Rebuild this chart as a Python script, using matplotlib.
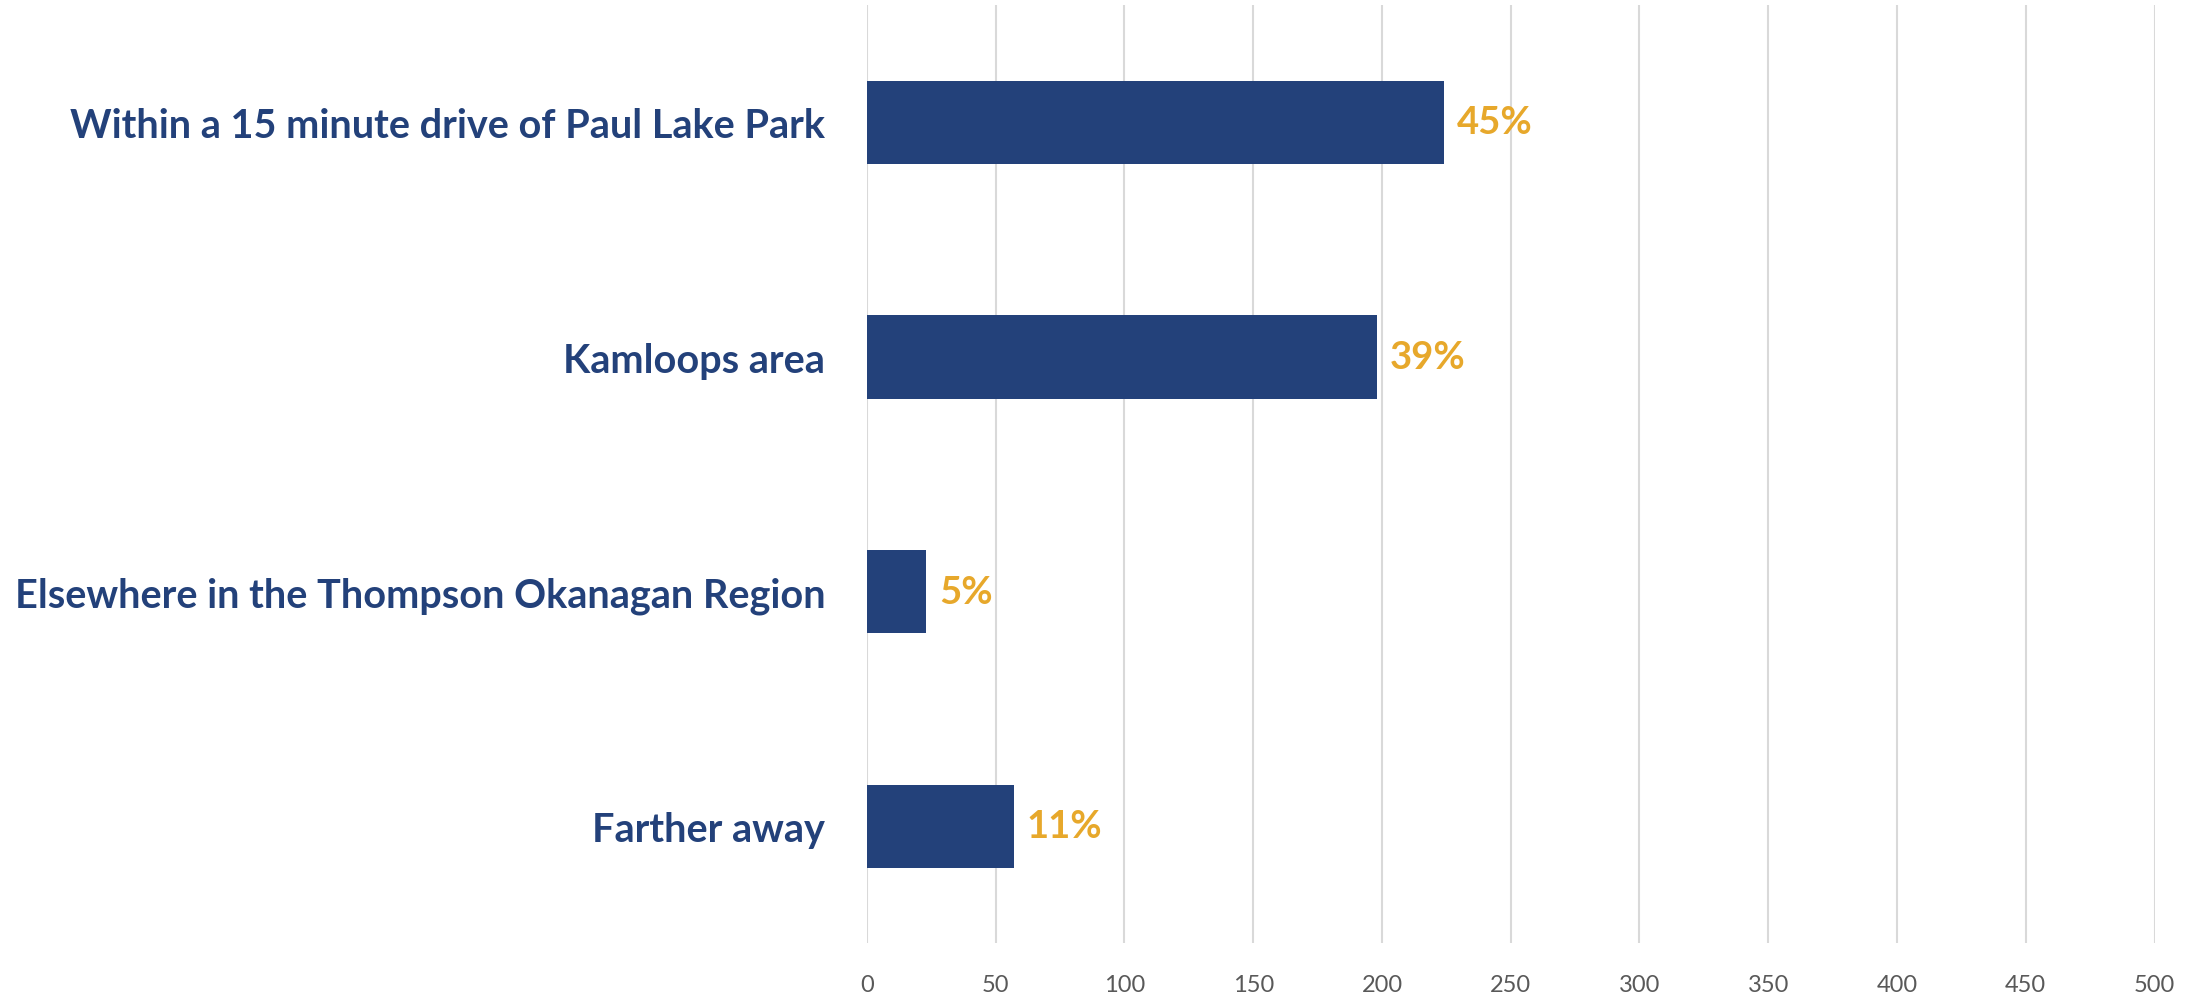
import matplotlib
matplotlib.use('Agg')
import matplotlib.pyplot as plt

# data
categories = ['Within a 15 minute drive of Paul Lake Park',
              'Kamloops area',
              'Elsewhere in the Thompson Okanagan Region',
              'Farther away']
counts = [224, 198, 23, 57]
pct_labels = ['45%', '39%', '5%', '11%']
xticks = [0, 50, 100, 150, 200, 250, 300, 350, 400, 450, 500]

navy = '#23417A'
gold = '#E7A82B'

plt.rcParams['font.family'] = ['Lato', 'DejaVu Sans']

fig = plt.figure(figsize=(22.03, 9.95), dpi=100)
ax = fig.add_axes([0.3935, 0.0508, 0.5845, 0.943])

ypos = list(range(len(categories)))
ax.barh(ypos, counts, height=0.355, color=navy, zorder=3)

for y, c, lab in zip(ypos, counts, pct_labels):
    ax.text(c + 5, y, lab, va='center', ha='left', color=gold,
            fontsize=27.5, fontweight='bold')

ax.set_yticks(ypos)
ax.set_yticklabels(categories, fontsize=28.5, fontweight='bold', color=navy)
ax.set_ylim(len(categories) - 0.5, -0.5)
ax.set_xlim(0, 500)
ax.set_xticks(xticks)
ax.set_xticklabels([str(t) for t in xticks], fontsize=17, color='#595959')

ax.xaxis.grid(True, color='#D9D9D9', linewidth=1.5, zorder=0)
ax.tick_params(axis='both', length=0)
ax.tick_params(axis='y', pad=30)
ax.tick_params(axis='x', pad=22)
for s in ax.spines.values():
    s.set_visible(False)

fig.savefig('out.png', dpi=100)
